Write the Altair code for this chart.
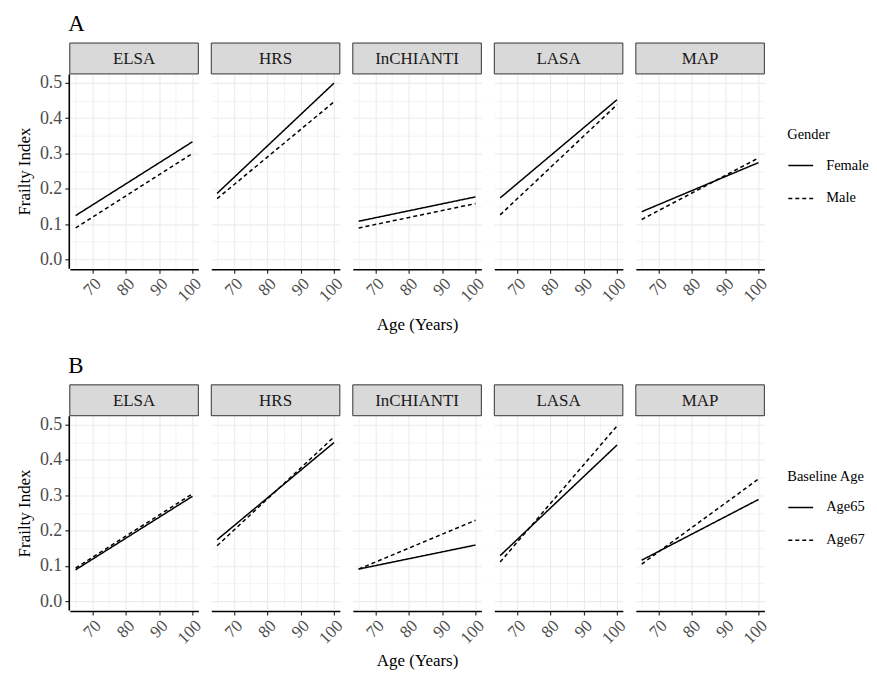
import altair as alt
import pandas as pd

FONT = "Liberation Serif"

cohorts = ["ELSA", "HRS", "InCHIANTI", "LASA", "MAP"]
ages = [65, 100]

# Panel A: by gender (value at age 65, value at age 100)
female_start = [0.124, 0.187, 0.108, 0.174, 0.135]
female_end = [0.333, 0.499, 0.177, 0.452, 0.274]
male_start = [0.089, 0.172, 0.089, 0.126, 0.113]
male_end = [0.300, 0.446, 0.158, 0.438, 0.287]

# Panel B: by baseline age
age65_start = [0.089, 0.174, 0.091, 0.129, 0.116]
age65_end = [0.297, 0.449, 0.159, 0.442, 0.288]
age67_start = [0.094, 0.157, 0.091, 0.111, 0.105]
age67_end = [0.304, 0.465, 0.229, 0.496, 0.346]

x_grid = [65, 70, 75, 80, 85, 90, 95, 100]
y_grid = [0.0, 0.05, 0.1, 0.15, 0.2, 0.25, 0.3, 0.35, 0.4, 0.45, 0.5]


def make_df(groups, series):
    rows = []
    for g, (starts, ends) in zip(groups, series):
        for i, c in enumerate(cohorts):
            rows.append({"cohort": c, "group": g, "age": ages[0], "fi": starts[i]})
            rows.append({"cohort": c, "group": g, "age": ages[1], "fi": ends[i]})
    return pd.DataFrame(rows)


dfA = make_df(["Female", "Male"], [(female_start, female_end), (male_start, male_end)])
dfB = make_df(["Age65", "Age67"], [(age65_start, age65_end), (age67_start, age67_end)])

W, H = 129, 195
XMAJ = "datum.value % 10 == 0"
YMAJ = "abs(datum.value*10 - round(datum.value*10)) < 0.001"


def panel(df, groups, legend_title, tag, xtitle_pad):
    base = alt.Chart()
    lines = base.mark_line(color="black", strokeWidth=1.5).encode(
        x=alt.X(
            "age:Q",
            scale=alt.Scale(domain=[63.25, 101.75], nice=False, zero=False),
            axis=alt.Axis(
                values=x_grid,
                title=None,
                labelExpr=f"{XMAJ} ? datum.label : ''",
                labelOverlap=False,
                tickOpacity={"condition": {"test": XMAJ, "value": 1}, "value": 0},
                gridWidth={"condition": {"test": XMAJ, "value": 1.1}, "value": 0.6},
                labelAngle=-45,
                labelAlign="right",
                labelBaseline="top",
                labelPadding=2,
            ),
        ),
        y=alt.Y(
            "fi:Q",
            scale=alt.Scale(domain=[-0.025, 0.525], nice=False, zero=False),
            axis=alt.Axis(
                values=y_grid,
                title="Frailty Index",
                format=".1f",
                labelOverlap=False,
                labelFontSize=18,
                titlePadding=6,
                labelExpr=f"{YMAJ} ? datum.label : ''",
                tickOpacity={"condition": {"test": YMAJ, "value": 1}, "value": 0},
                gridWidth={"condition": {"test": YMAJ, "value": 1.1}, "value": 0.6},
            ),
        ),
        strokeDash=alt.StrokeDash(
            "group:N",
            scale=alt.Scale(domain=groups, range=[[1, 0], [4, 3]]),
            legend=alt.Legend(title=legend_title, orient="none", legendX=720, legendY=54),
        ),
    )
    flt = f"datum.age == {ages[0]} && datum.group == '{groups[0]}'"
    strip_rect = base.mark_rect(fill="#D9D9D9", stroke="#333333", strokeWidth=1).encode(
        x=alt.value(0), x2=alt.value(W), y=alt.value(-31), y2=alt.value(0)
    ).transform_filter(flt)
    strip_text = base.mark_text(font=FONT, fontSize=17, color="#1A1A1A", baseline="middle").encode(
        x=alt.value(W / 2), y=alt.value(-15), text="cohort:N"
    ).transform_filter(flt)
    layer = alt.layer(lines, strip_rect, strip_text, data=df).properties(width=W, height=H)
    return layer.facet(
        column=alt.Column(
            "cohort:N",
            sort=cohorts,
            header=alt.Header(
                labels=False,
                title="Age (Years)",
                titleOrient="bottom",
                titleFont=FONT,
                titleFontSize=17,
                titleFontWeight="normal",
                titleColor="black",
                titlePadding=xtitle_pad,
            ),
        ),
        spacing=11,
    ).properties(
        title=alt.TitleParams(tag, anchor="start", font=FONT, fontSize=23, fontWeight="normal",
                              color="black", offset=6, dx=53)
    )


chart = alt.vconcat(
    panel(dfA, ["Female", "Male"], "Gender", "A", 2),
    panel(dfB, ["Age65", "Age67"], "Baseline Age", "B", -4),
    spacing=22,
).resolve_scale(strokeDash="independent").configure(
    font=FONT,
    padding={"left": 7, "top": 4, "right": 0, "bottom": 0},
).configure_view(stroke="transparent").configure_axis(
    domainColor="black",
    domainWidth=1.6,
    tickColor="#333333",
    tickWidth=1.2,
    tickSize=4,
    labelColor="#4D4D4D",
    labelFont=FONT,
    labelFontSize=17,
    titleFont=FONT,
    titleFontSize=17,
    titleFontWeight="normal",
    titleColor="black",
    gridColor="#EBEBEB",
    labelPadding=3,
).configure_legend(
    titleFont=FONT,
    titleFontSize=14.5,
    titleFontWeight="normal",
    titleColor="black",
    labelFont=FONT,
    labelFontSize=14.5,
    labelColor="black",
    symbolType="stroke",
    symbolSize=620,
    symbolStrokeWidth=1.5,
    rowPadding=13,
    titlePadding=10,
    labelOffset=12,
)

chart.save("out.html", embed_options={"renderer": "svg", "actions": False})
